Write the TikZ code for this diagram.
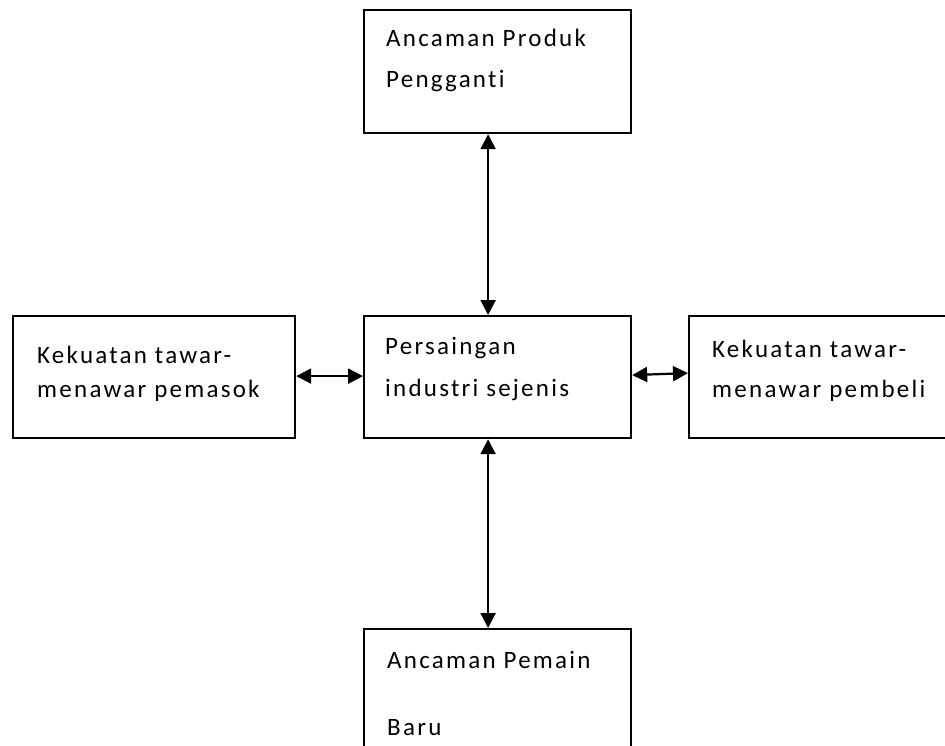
\documentclass[tikz,border=0pt]{standalone}
\usepackage{fontspec}
\setmainfont{Carlito}[LetterSpace=9, Ligatures={NoCommon}]
\usetikzlibrary{arrows.meta}
\tikzset{
  box/.style={draw, line width=2.2pt, minimum width=0pt, minimum height=0pt, inner sep=0pt, anchor=north west},
  txt/.style={anchor=base west, inner sep=0pt, font=\fontsize{25}{30}\selectfont},
  dbl/.style={line width=2.2pt, {Triangle[length=15pt,width=15pt]}-{Triangle[length=15pt,width=15pt]}}
}
\begin{document}
\begin{tikzpicture}[x=1pt,y=-1pt]
\useasboundingbox (0,0) rectangle (945,746);
\clip (0,0) rectangle (945,746);
% boxes
\node[box, minimum width=267pt, minimum height=123pt] (top) at (363,9) {};
\node[box, minimum width=282pt, minimum height=122pt] (left) at (12,315) {};
\node[box, minimum width=267pt, minimum height=122pt] (center) at (363,315) {};
\node[box, minimum width=320pt, minimum height=122pt] (right) at (688,315) {};
\node[box, minimum width=267pt, minimum height=160pt] (bottom) at (363,628) {};
% texts
\node[txt] (top1) at (386,47) {Ancaman Produk};
\node[txt] (top2) at (386,88) {Pengganti};
\node[txt] (left1) at (37,363) {Kekuatan tawar-};
\node[txt] (left2) at (37,397) {menawar pemasok};
\node[txt] (center1) at (385,354) {Persaingan};
\node[txt] (center2) at (385,396) {industri sejenis};
\node[txt] (right1) at (712,357) {Kekuatan tawar-};
\node[txt] (right2) at (712,397) {menawar pembeli};
\node[txt] (bottom1) at (387,668) {Ancaman Pemain};
\node[txt] (bottom2) at (387,735) {Baru};
% connectors
\draw[dbl] ([xshift=-9.5pt]top.south) -- ([xshift=-9.5pt]center.north);
\draw[dbl] ([xshift=-9.5pt]center.south) -- ([xshift=-9.5pt]bottom.north);
\draw[dbl] ([yshift=1pt]left.east) -- ([yshift=1pt]center.west);
\draw[dbl] ([yshift=2pt]center.east) -- ([yshift=4pt]right.west);
\end{tikzpicture}
\end{document}
